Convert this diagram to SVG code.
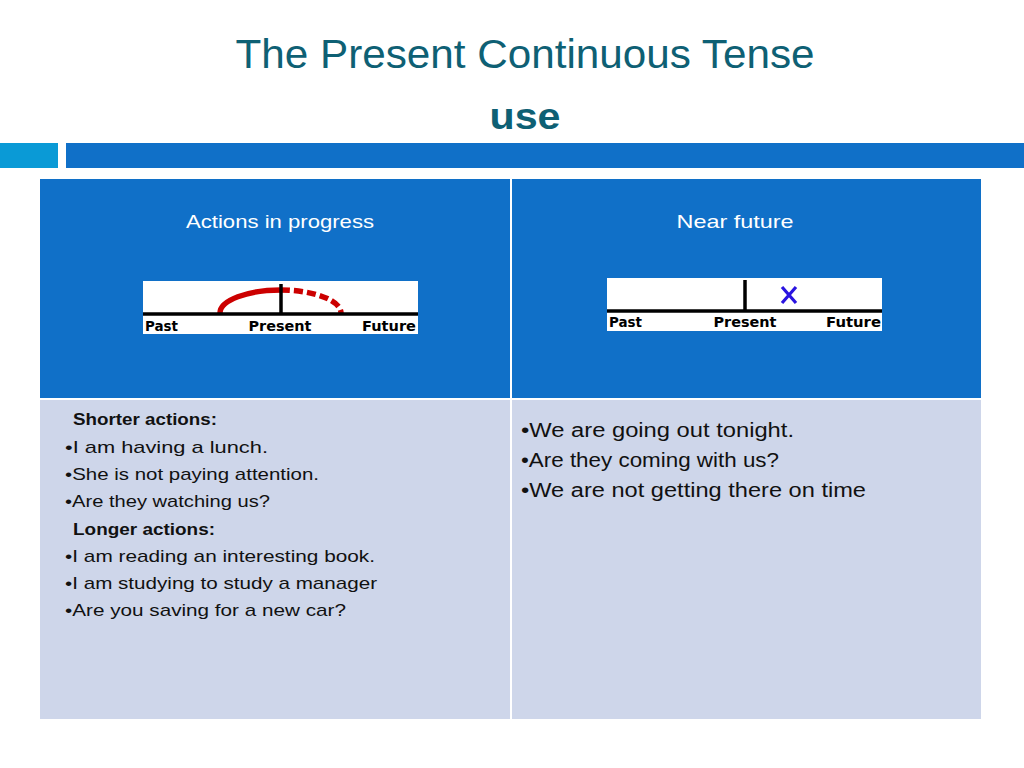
<svg xmlns="http://www.w3.org/2000/svg" width="1024" height="768" viewBox="0 0 1024 768">
<style>
.title{font-family:"Liberation Sans",Arial,sans-serif;fill:#0E6074}
.hd{font-family:"Liberation Sans",Arial,sans-serif;font-size:19px;fill:#ffffff}
.bd{font-family:"Liberation Sans",Arial,sans-serif;font-size:17px;fill:#111111}
.bdb{font-family:"Liberation Sans",Arial,sans-serif;font-size:17px;font-weight:bold;fill:#111111}
.br{font-family:"Liberation Sans",Arial,sans-serif;font-size:20px;fill:#111111}
.tl{font-family:"DejaVu Sans",Verdana,sans-serif;font-size:14px;font-weight:bold;fill:#000000}
.blk{stroke:#000;stroke-width:3.5;fill:none}
.red{stroke:#CC0000;stroke-width:5.5;fill:none}
</style>
<rect width="1024" height="768" fill="#ffffff"/>
<g id="title">
<text class="title" x="525" y="68" font-size="40" text-anchor="middle" textLength="579" lengthAdjust="spacingAndGlyphs">The Present Continuous Tense</text>
<text class="title" x="525" y="129" font-size="37" font-weight="bold" text-anchor="middle" textLength="71" lengthAdjust="spacingAndGlyphs">use</text>
</g>
<g id="bars">
<rect x="0" y="143" width="58" height="25" fill="#0A9AD6"/>
<rect x="66" y="143" width="958" height="25" fill="#1070C8"/>
</g>
<g id="table">
<rect x="40" y="179" width="470" height="219" fill="#1070C8"/>
<rect x="512" y="179" width="469" height="219" fill="#1070C8"/>
<rect x="40" y="400" width="470" height="319" fill="#CED6EA"/>
<rect x="512" y="400" width="469" height="319" fill="#CED6EA"/>
</g>
<g id="cell-actions">
<text class="hd" x="280" y="228" text-anchor="middle" textLength="188" lengthAdjust="spacingAndGlyphs">Actions in progress</text>
<g id="timeline1">
<rect x="143" y="281" width="275" height="53" fill="#ffffff"/>
<path class="red" d="M220,313 A61,23 0 0 1 281,290"/>
<path class="red" d="M281,290 A61,23 0 0 1 341,313" stroke-dasharray="9,4"/>
<line class="blk" x1="143" y1="314" x2="418" y2="314"/>
<line class="blk" x1="281" y1="284" x2="281" y2="314"/>
<text class="tl" x="145" y="331" textLength="33" lengthAdjust="spacingAndGlyphs">Past</text>
<text class="tl" x="280" y="331" text-anchor="middle" textLength="63" lengthAdjust="spacingAndGlyphs">Present</text>
<text class="tl" x="416" y="331" text-anchor="end" textLength="54" lengthAdjust="spacingAndGlyphs">Future</text>
</g>
</g>
<g id="cell-near-future">
<text class="hd" x="735" y="228" text-anchor="middle" textLength="117" lengthAdjust="spacingAndGlyphs">Near future</text>
<g id="timeline2">
<rect x="607" y="278" width="275" height="53" fill="#ffffff"/>
<line class="blk" x1="607" y1="311" x2="882" y2="311"/>
<line class="blk" x1="745" y1="280" x2="745" y2="311"/>
<path d="M782,287 L796,303 M796,287 L782,303" stroke="#2A14E0" stroke-width="3.2" fill="none"/>
<text class="tl" x="609" y="327" textLength="33" lengthAdjust="spacingAndGlyphs">Past</text>
<text class="tl" x="745" y="327" text-anchor="middle" textLength="63" lengthAdjust="spacingAndGlyphs">Present</text>
<text class="tl" x="881" y="327" text-anchor="end" textLength="55" lengthAdjust="spacingAndGlyphs">Future</text>
</g>
</g>
<g id="cell-examples-left">
<text class="bdb" x="73" y="425" textLength="144" lengthAdjust="spacingAndGlyphs">Shorter actions:</text>
<text class="bd" x="65" y="453" textLength="203" lengthAdjust="spacingAndGlyphs">•I am having a lunch.</text>
<text class="bd" x="65" y="480" textLength="254" lengthAdjust="spacingAndGlyphs">•She is not paying attention.</text>
<text class="bd" x="65" y="507" textLength="205" lengthAdjust="spacingAndGlyphs">•Are they watching us?</text>
<text class="bdb" x="73" y="535" textLength="142" lengthAdjust="spacingAndGlyphs">Longer actions:</text>
<text class="bd" x="65" y="562" textLength="310" lengthAdjust="spacingAndGlyphs">•I am reading an interesting book.</text>
<text class="bd" x="65" y="589" textLength="312" lengthAdjust="spacingAndGlyphs">•I am studying to study a manager</text>
<text class="bd" x="65" y="616" textLength="281" lengthAdjust="spacingAndGlyphs">•Are you saving for a new car?</text>
</g>
<g id="cell-examples-right">
<text class="br" x="521" y="437" textLength="273" lengthAdjust="spacingAndGlyphs">•We are going out tonight.</text>
<text class="br" x="521" y="467" textLength="258" lengthAdjust="spacingAndGlyphs">•Are they coming with us?</text>
<text class="br" x="521" y="497" textLength="345" lengthAdjust="spacingAndGlyphs">•We are not getting there on time</text>
</g>
<g id="connectors"/>
</svg>
